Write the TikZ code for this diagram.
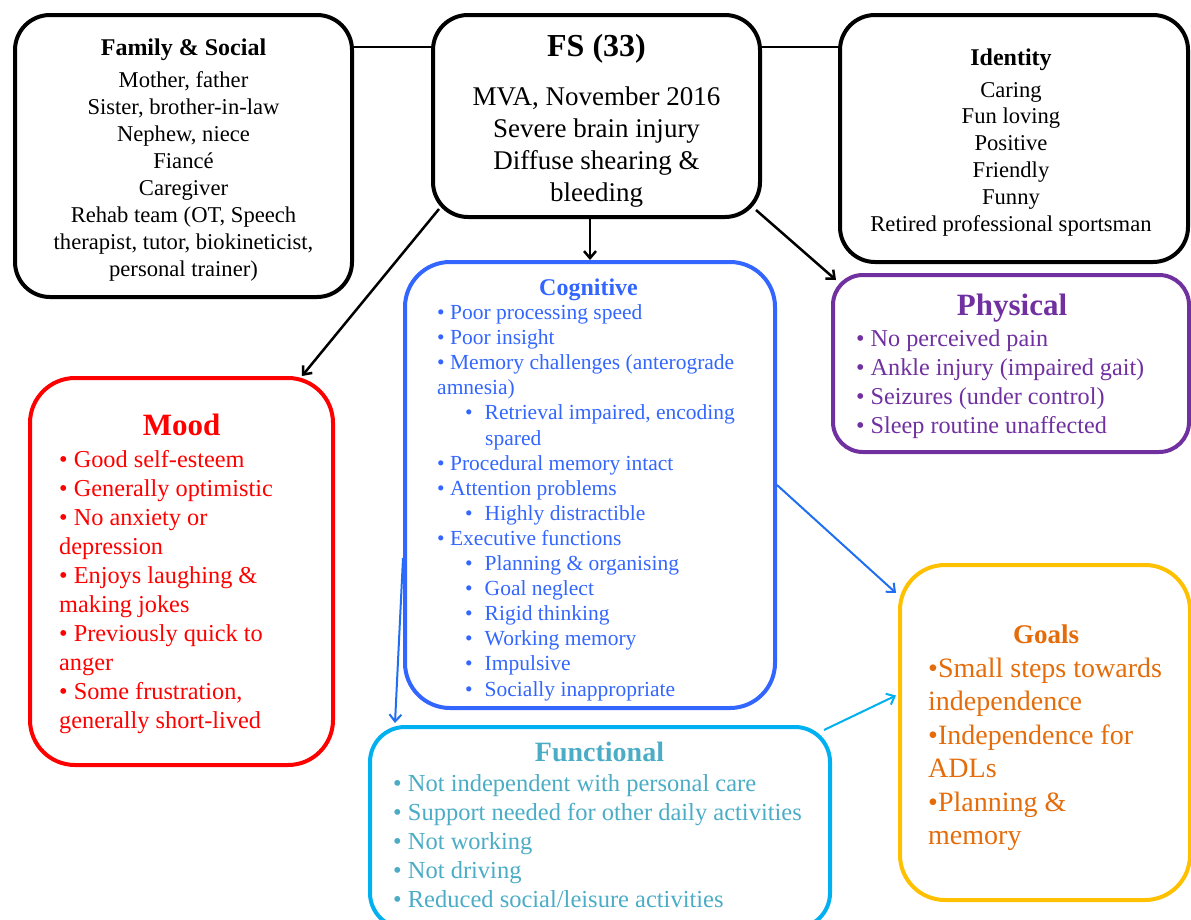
\documentclass[tikz,border=0pt]{standalone}
\usepackage{fontspec}
\setmainfont{Liberation Serif}
\usepackage{xcolor}
\definecolor{cogBlue}{HTML}{3366FF}
\definecolor{moodRed}{HTML}{FF0000}
\definecolor{physPurple}{HTML}{7030A0}
\definecolor{funcCyan}{HTML}{00B0F0}
\definecolor{funcText}{HTML}{4BACC6}
\definecolor{goalGold}{HTML}{FFC000}
\definecolor{goalText}{HTML}{E46C0A}
\definecolor{arrBlue}{HTML}{1F6FF0}
\usepackage{tikz}
\usetikzlibrary{arrows.meta, positioning, calc}

\newcommand{\cogsub}{\hspace*{28pt}•\hspace*{12pt}}

\begin{document}
\begin{tikzpicture}[
    x=1pt, y=-1pt,
    boxNode/.style={draw, rounded corners=35pt, line width=4pt, inner sep=0pt},
    headNode/.style={anchor=base, font=\bfseries\fontsize{#1}{#1}\selectfont},
    listNode/.style={anchor=base west, align=left, inner sep=0pt},
    midNode/.style={anchor=base, align=center, inner sep=0pt},
    arrLine/.style={-{Straight Barb[length=7pt,width=12pt]}, line width=2.5pt},
    blueLine/.style={-{Straight Barb[length=7pt,width=12pt]}, line width=2pt}
]
\useasboundingbox (0,0) rectangle (1191,919);

% Boxes
\node[boxNode, minimum width=337pt, minimum height=282pt] (fam) at (183.5,156) {};
\node[boxNode, minimum width=327pt, minimum height=202pt] (fs) at (596.5,116) {};
\node[boxNode, minimum width=348pt, minimum height=247pt] (ident) at (1014,138.5) {};
\node[boxNode, draw=cogBlue, rounded corners=45pt, minimum width=370pt, minimum height=446pt] (cog) at (590,485) {};
\node[boxNode, draw=physPurple, rounded corners=30pt, minimum width=356pt, minimum height=177pt] (phys) at (1011,363.5) {};
\node[boxNode, draw=moodRed, rounded corners=45pt, minimum width=303pt, minimum height=387pt] (mood) at (181.5,571.5) {};
\node[boxNode, draw=funcCyan, minimum width=460pt, minimum height=201pt] (func) at (600,827.5) {};
\node[boxNode, draw=goalGold, rounded corners=45pt, minimum width=290pt, minimum height=335pt] (goals) at (1045,732.5) {};

% Family & Social (base = last line)
\node[headNode=24pt] (famTitle) at (183.5,55) {Family \& Social};
\node[midNode, font=\fontsize{22.6pt}{27pt}\selectfont] (famList) at (183.5,276) {Mother, father\\Sister, brother-in-law\\Nephew, niece\\Fiancé\\Caregiver\\Rehab team (OT, Speech\\therapist, tutor, biokineticist,\\personal trainer)};

% FS
\node[headNode=32pt] (fsTitle) at (596.5,56) {FS (33)};
\node[midNode, font=\fontsize{27pt}{32pt}\selectfont] (fsList) at (596.5,201) {MVA, November 2016\\Severe brain injury\\Diffuse shearing \&\\bleeding};

% Identity
\node[headNode=24pt] (identTitle) at (1011,65) {Identity};
\node[midNode, font=\fontsize{22.6pt}{26.8pt}\selectfont] (identList) at (1011,231) {Caring\\Fun loving\\Positive\\Friendly\\Funny\\Retired professional sportsman};

% Cognitive
\node[headNode=24pt, color=cogBlue] (cogTitle) at (588.5,295) {Cognitive};
\node[listNode, color=cogBlue, font=\fontsize{21.5pt}{25.1pt}\selectfont] (cogList) at (437,696) {• Poor processing speed\\• Poor insight\\• Memory challenges (anterograde\\amnesia)\\\cogsub Retrieval impaired, encoding\\\hspace*{48pt}spared\\• Procedural memory intact\\• Attention problems\\\cogsub Highly distractible\\• Executive functions\\\cogsub Planning \& organising\\\cogsub Goal neglect\\\cogsub Rigid thinking\\\cogsub Working memory\\\cogsub Impulsive\\\cogsub Socially inappropriate};

% Physical
\node[headNode=31pt, color=physPurple] (physTitle) at (1012,315) {Physical};
\node[listNode, color=physPurple, font=\fontsize{24.2pt}{29pt}\selectfont] (physList) at (856,433) {• No perceived pain\\• Ankle injury (impaired gait)\\• Seizures (under control)\\• Sleep routine unaffected};

% Mood
\node[headNode=31pt, color=moodRed] (moodTitle) at (181.5,435) {Mood};
\node[listNode, color=moodRed, font=\fontsize{24.3pt}{29pt}\selectfont] (moodList) at (59,728) {• Good self-esteem\\• Generally optimistic\\• No anxiety or\\depression\\• Enjoys laughing \&\\making jokes\\• Previously quick to\\anger\\• Some frustration,\\generally short-lived};

% Functional
\node[headNode=28pt, color=funcText] (funcTitle) at (599.5,761) {Functional};
\node[listNode, color=funcText, font=\fontsize{24.5pt}{29.2pt}\selectfont] (funcList) at (393,907.8) {• Not independent with personal care\\• Support needed for other daily activities\\• Not working\\• Not driving\\• Reduced social/leisure activities};

% Goals
\node[headNode=27pt, color=goalText] (goalsTitle) at (1046,643) {Goals};
\node[listNode, color=goalText, font=\fontsize{28pt}{33.5pt}\selectfont] (goalsList) at (928,844.5) {•Small steps towards\\independence\\•Independence for\\ADLs\\•Planning \&\\memory};

% Connectors
\draw[line width=2.5pt] ($(fam.north east)+(0,34)$) -- ($(fs.north west)+(0,34)$);
\draw[line width=2.5pt] ($(fs.north east)+(0,34)$) -- ($(ident.north west)+(0,34)$);
\draw[arrLine] (fs.south -| cog.north) -- (cog.north);
\draw[arrLine] ($(fs.south west)+(8,-10)$) -- ($(mood.north east)+(-33,0)$);
\draw[arrLine] ($(fs.south east)+(-6,-9)$) -- ($(phys.north west)+(5,7)$);
\draw[blueLine, color=arrBlue] ($(cog.west)+(0,73)$) -- ($(func.north west)+(27,-2)$);
\draw[blueLine, color=arrBlue] (cog.east) -- ($(goals.west)+(-2,-139.5)$);
\draw[blueLine, color=funcCyan] ($(func.north east)+(-8,5)$) -- ($(goals.west)+(-2,-37)$);

\end{tikzpicture}
\end{document}
